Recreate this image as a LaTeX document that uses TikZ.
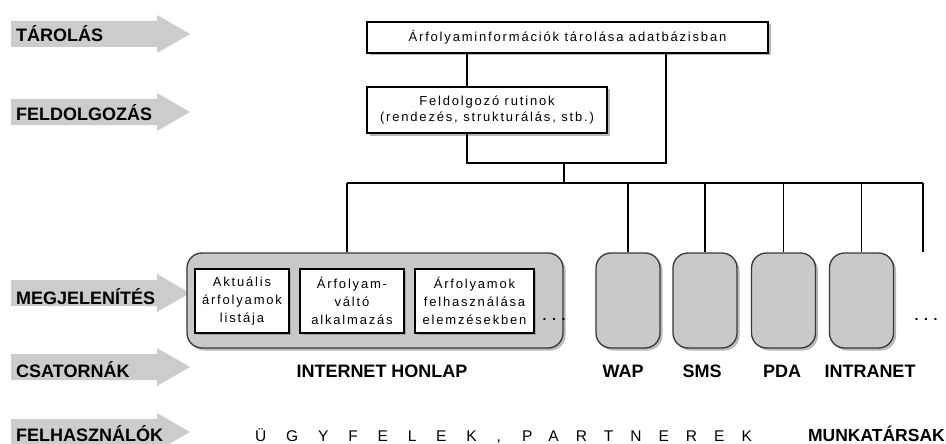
\documentclass[tikz,border=0pt]{standalone}
\usepackage{fontspec}
\setmainfont{Liberation Sans}
\newfontfamily\boxfont[LetterSpace=14]{Liberation Sans}
\newfontfamily\dotfont[LetterSpace=40]{Liberation Sans}
\newfontfamily\clientfont[LetterSpace=128]{Liberation Sans}
\newfontfamily\partnerfont[LetterSpace=110]{Liberation Sans}
\usetikzlibrary{shadows}
\definecolor{arrowgray}{HTML}{CCCCCC}
\definecolor{panelgray}{HTML}{C9C9C9}
\definecolor{edgegray}{HTML}{383838}

\begin{document}
\begin{tikzpicture}[x=1pt,y=-1pt,
  lvltext/.style={anchor=base west,inner sep=0pt,font=\fontsize{18}{20}\selectfont\bfseries},
  chtext/.style={anchor=base,inner sep=0pt,font=\fontsize{18}{20}\selectfont\bfseries},
  usertext/.style={anchor=base west,inner sep=0pt},
  infobox/.style={draw=black,line width=1.4pt,fill=white,inner sep=0pt,align=center,
    font=\boxfont\fontsize{13}{16.5}\selectfont,
    drop shadow={shadow xshift=2.5pt,shadow yshift=-2.5pt,fill=black!55}},
  appbox/.style={draw=black,line width=1.2pt,fill=white,inner sep=0pt,align=center,
    minimum height=64pt,font=\boxfont\fontsize{13}{18}\selectfont,
    drop shadow={shadow xshift=2pt,shadow yshift=-2pt,fill=black!50}},
  panel/.style={draw=edgegray,line width=1.3pt,fill=panelgray,inner sep=0pt,
    minimum height=95pt,rounded corners=15pt,
    drop shadow={shadow xshift=2.5pt,shadow yshift=-2.5pt,fill=black!55}},
  dots/.style={inner sep=0pt,font=\dotfont\fontsize{14}{16}\selectfont\bfseries},
  wire/.style={draw=black,line width=1.3pt},
]
\useasboundingbox (0,0) rectangle (946,444);
\clip (0,0) rectangle (946,444);

% level arrows on the left
\foreach \c in {34,112,293,367,432}
  \fill[arrowgray] (11,\c-13) -- (157,\c-13) -- (157,\c-19) -- (190,\c)
    -- (157,\c+19) -- (157,\c+13) -- (11,\c+13) -- cycle;

\node[lvltext] (lvlstore) at (16,42)    {TÁROLÁS};
\node[lvltext] (lvlproc)  at (16,121)   {FELDOLGOZÁS};
\node[lvltext] (lvlview)  at (16,304.5) {MEGJELENÍTÉS};
\node[lvltext] (lvlchan)  at (16,377)   {CSATORNÁK};
\node[lvltext] (lvlusers) at (16,441.5) {FELHASZNÁLÓK};

% storage and processing
\node[infobox,minimum width=401pt,minimum height=31pt] (store) at (567.5,37.5)
  {Árfolyaminformációk tárolása adatbázisban};
\node[infobox,minimum width=240pt,minimum height=46pt] (proc) at (487,110)
  {Feldolgozó rutinok\\(rendezés, strukturálás, stb.)};

% channel panels
\node[panel,minimum width=376pt] (web) at (375,300.5) {};
\node[appbox,minimum width=94pt]  (app1) at (242,301)   {Aktuális\\árfolyamok\\listája};
\node[appbox,minimum width=104pt] (app2) at (352,301)   {Árfolyam-\\váltó\\alkalmazás};
\node[appbox,minimum width=119pt] (app3) at (474.5,301) {Árfolyamok\\felhasználása\\elemzésekben};
\node[dots] (webmore) at (554,319) {...};

\node[panel,minimum width=64pt] (wap)   at (628,300.5)   {};
\node[panel,minimum width=64pt] (sms)   at (705,300.5)   {};
\node[panel,minimum width=64pt] (pda)   at (783.5,300.5) {};
\node[panel,minimum width=64pt] (intra) at (861.5,300.5) {};
\node[dots] (chmore) at (926,319) {...};

% channel names
\node[chtext] (webname)   at (382,377) {INTERNET HONLAP};
\node[chtext] (wapname)   at (623,377) {WAP};
\node[chtext] (smsname)   at (702,377) {SMS};
\node[chtext] (pdaname)   at (782,377) {PDA};
\node[chtext] (intraname) at (870,377) {INTRANET};

% users
\node[usertext,font=\clientfont\fontsize{15.5}{16}\selectfont]
  (clients) at (255,441.5) {ÜGYFELEK,};
\node[usertext,font=\partnerfont\fontsize{15.5}{16}\selectfont]
  (partners) at (522,441.5) {PARTNEREK};
\node[anchor=base east,inner sep=0pt,font=\fontsize{17.5}{18}\selectfont\bfseries]
  (staff) at (945,441.5) {MUNKATÁRSAK};

% connectors
\coordinate (procx) at (467,0);
\coordinate (loopx) at (666,0);
\coordinate (joint) at (564,163);
\coordinate (busL)  at (347,183);
\coordinate (busR)  at (923,183);
\coordinate (moreend) at (923,252);

\draw[wire] (procx |- store.south) -- (procx |- proc.north);
\draw[wire] (procx |- proc.south) -- (procx |- joint) -- (loopx |- joint) -- (loopx |- store.south);
\draw[wire] (joint) -- (joint |- busL);
\draw[wire] (busL) -- (busR);
\draw[wire] (busL) -- (busL |- web.north);
\draw[wire] (wap.north |- busL) -- (wap.north);
\draw[wire] (sms.north |- busL) -- (sms.north);
\draw[wire] (pda.north |- busL) -- (pda.north);
\draw[wire] (intra.north |- busL) -- (intra.north);
\draw[wire] (busR) -- (moreend);
\end{tikzpicture}
\end{document}
